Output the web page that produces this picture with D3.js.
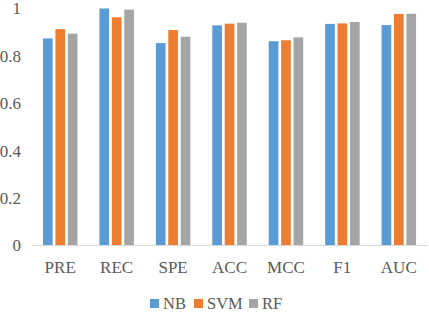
<!DOCTYPE html>
<html>
<head>
<meta charset="utf-8">
<script src="https://cdn.jsdelivr.net/npm/d3@7"></script>
<style>
  body { margin: 0; background: #fff; }
  text { font-family: "Liberation Serif", "Times New Roman", serif; fill: #595959; }
</style>
</head>
<body>
<div class="chart"></div>
<script>
const metrics = ["PRE", "REC", "SPE", "ACC", "MCC", "F1", "AUC"];
const models = ["NB", "SVM", "RF"];
const nb  = [0.874, 1.000, 0.854, 0.929, 0.862, 0.935, 0.930];
const svm = [0.913, 0.963, 0.909, 0.936, 0.866, 0.937, 0.977];
const rf  = [0.894, 0.995, 0.881, 0.940, 0.878, 0.943, 0.978];
const yTicks = [0, 0.2, 0.4, 0.6, 0.8, 1];
const colors = ["#5B9BD5", "#ED7D31", "#A5A5A5"];

const width = 429;
const height = 313;
const series = [nb, svm, rf];

const svg = d3.select("div.chart")
    .append("svg")
    .attr("width", width)
    .attr("height", height);

const x = d3.scaleBand().domain(metrics).range([32, 427]).paddingInner(0).paddingOuter(0);
const xi = d3.scaleBand().domain(models).range([11, 45.5]).paddingInner(0.22);
const y = d3.scaleLinear().domain([0, 1]).range([245.5, 8.5]);

// y labels
svg.append("g")
    .selectAll("text")
    .data(yTicks)
    .enter()
    .append("text")
    .attr("x", 21)
    .attr("y", d => y(d))
    .attr("dy", "0.35em")
    .attr("text-anchor", "end")
    .style("font-size", "17px")
    .text(d => d3.format("")(d));

// bars
svg.append("g")
    .selectAll("g")
    .data(metrics)
    .enter()
    .append("g")
    .attr("transform", d => `translate(${x(d)},0)`)
    .selectAll("rect")
    .data((d, i) => models.map((m, j) => ({ m: m, v: series[j][i] })))
    .enter()
    .append("rect")
    .attr("x", d => xi(d.m))
    .attr("width", xi.bandwidth())
    .attr("y", d => y(d.v))
    .attr("height", d => y(0) - y(d.v))
    .attr("fill", (d, j) => colors[j]);

// x axis line
svg.append("line")
    .attr("x1", 32).attr("x2", 427)
    .attr("y1", y(0)).attr("y2", y(0))
    .attr("stroke", "#D9D9D9")
    .attr("stroke-width", 1);

// x labels
svg.append("g")
    .selectAll("text")
    .data(metrics)
    .enter()
    .append("text")
    .attr("x", d => x(d) + x.bandwidth() / 2)
    .attr("y", 267)
    .attr("dy", "0.35em")
    .attr("text-anchor", "middle")
    .style("font-size", "17px")
    .text(d => d);

// legend
const legendX = [150, 194, 249];
const legend = svg.append("g")
    .selectAll("g")
    .data(models)
    .enter()
    .append("g")
    .attr("transform", (d, i) => `translate(${legendX[i]},299)`);

legend.append("rect")
    .attr("width", 9)
    .attr("height", 9)
    .attr("fill", (d, i) => colors[i]);

legend.append("text")
    .attr("x", 13)
    .attr("y", 10)
    .style("font-size", "16.5px")
    .text(d => d);
</script>
</body>
</html>
